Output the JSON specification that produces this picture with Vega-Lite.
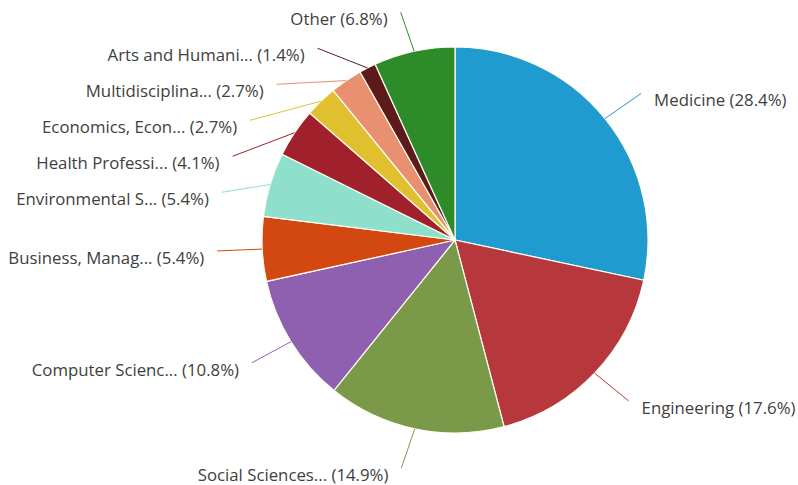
{
  "$schema": "https://vega.github.io/schema/vega-lite/v6.json",
  "width": 686,
  "height": 480,
  "autosize": {"type": "none"},
  "padding": {"left": 112, "top": 0, "right": 0, "bottom": 5},
  "background": "white",
  "config": {"view": {"stroke": null}},
  "data": {
    "values": [
      {"name": "Medicine", "value": 28.4},
      {"name": "Engineering", "value": 17.6},
      {"name": "Social Sciences...", "value": 14.9},
      {"name": "Computer Scienc...", "value": 10.8},
      {"name": "Business, Manag...", "value": 5.4},
      {"name": "Environmental S...", "value": 5.4},
      {"name": "Health Professi...", "value": 4.1},
      {"name": "Economics, Econ...", "value": 2.7},
      {"name": "Multidisciplina...", "value": 2.7},
      {"name": "Arts and Humani...", "value": 1.4},
      {"name": "Other", "value": 6.8}
    ]
  },
  "transform": [
    {"window": [{"op": "row_number", "as": "idx"}]},
    {"joinaggregate": [{"op": "sum", "field": "value", "as": "total"}]},
    {"window": [{"op": "sum", "field": "value", "as": "cum"}], "sort": [{"field": "idx"}], "frame": [null, 0]},
    {"calculate": "2*PI*(datum.cum - datum.value/2)/datum.total", "as": "a"},
    {"calculate": "sin(datum.a) < 0 ? 'L' : 'R'", "as": "side"},
    {"calculate": "-233*cos(datum.a)", "as": "ndy"},
    {"window": [{"op": "row_number", "as": "k"}], "groupby": ["side"], "sort": [{"field": "ndy"}]},
    {"calculate": "datum.ndy - 36*datum.k", "as": "t"},
    {"window": [{"op": "max", "field": "t", "as": "cm"}], "groupby": ["side"], "sort": [{"field": "ndy"}], "frame": [null, 0]},
    {"calculate": "datum.cm + 36*datum.k", "as": "ly"},
    {"calculate": "sqrt(max(0, 233*233 - datum.ly*datum.ly)) * (datum.side == 'L' ? -1 : 1)", "as": "lxc"},
    {"calculate": "193*sin(datum.a)", "as": "ex"},
    {"calculate": "-193*cos(datum.a)", "as": "ey"},
    {"calculate": "datum.lxc + (datum.side == 'L' ? -5 : 5)", "as": "cx2"},
    {"calculate": "datum.lxc + (datum.side == 'L' ? -18 : 18)", "as": "tx"},
    {"calculate": "datum.ly + 8", "as": "ty"},
    {"calculate": "datum.name + ' (' + format(datum.value, '.1f') + '%)'", "as": "label"}
  ],
  "layer": [
    {
      "mark": {"type": "arc", "outerRadius": 193, "stroke": "#fffdf2", "strokeWidth": 1.2},
      "encoding": {
        "theta": {"field": "value", "type": "quantitative", "stack": true},
        "order": {"field": "idx", "type": "quantitative"},
        "color": {
          "field": "name", "type": "nominal", "legend": null,
          "scale": {
            "domain": ["Medicine", "Engineering", "Social Sciences...", "Computer Scienc...", "Business, Manag...", "Environmental S...", "Health Professi...", "Economics, Econ...", "Multidisciplina...", "Arts and Humani...", "Other"],
            "range": ["#1f9bcf", "#b6383d", "#7a9a4a", "#9060b0", "#d34810", "#8ee0cd", "#a0212b", "#e0c02e", "#e8906f", "#5c1a1a", "#2e8b2a"]
          }
        }
      }
    },
    {
      "mark": {"type": "rule", "strokeWidth": 1},
      "encoding": {
        "x": {"field": "ex", "type": "quantitative", "axis": null, "scale": {"domain": [-343, 343], "nice": false, "zero": false}},
        "y": {"field": "ey", "type": "quantitative", "axis": null, "scale": {"domain": [-240, 240], "nice": false, "zero": false, "reverse": true}},
        "x2": {"field": "cx2"},
        "y2": {"field": "ly"},
        "color": {"field": "name", "type": "nominal", "legend": null}
      }
    },
    {
      "transform": [{"filter": "datum.side == 'L'"}],
      "mark": {"type": "text", "align": "right", "baseline": "middle", "font": "Open Sans", "fontSize": 16.8, "color": "#404040"},
      "encoding": {
        "x": {"field": "tx", "type": "quantitative", "axis": null},
        "y": {"field": "ty", "type": "quantitative", "axis": null},
        "text": {"field": "label"}
      }
    },
    {
      "transform": [{"filter": "datum.side == 'R'"}],
      "mark": {"type": "text", "align": "left", "baseline": "middle", "font": "Open Sans", "fontSize": 16.8, "color": "#404040"},
      "encoding": {
        "x": {"field": "tx", "type": "quantitative", "axis": null},
        "y": {"field": "ty", "type": "quantitative", "axis": null},
        "text": {"field": "label"}
      }
    }
  ]
}
